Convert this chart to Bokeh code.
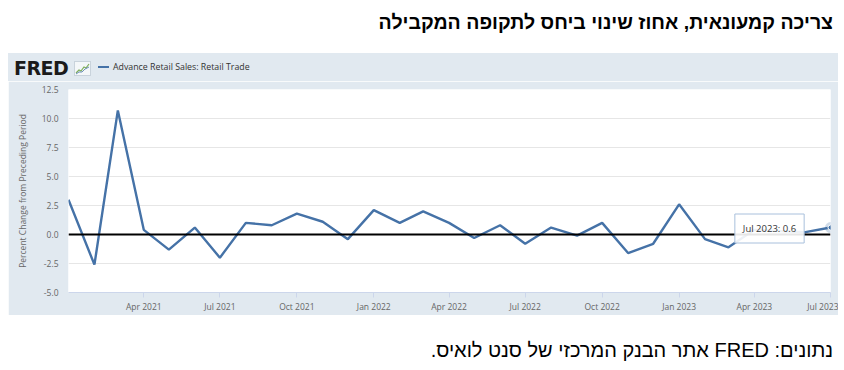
import pandas as pd
from bokeh.plotting import figure
from bokeh.models import (Range1d, FixedTicker, DatetimeTickFormatter, NumeralTickFormatter,
                          Span, Label, Div, ColumnDataSource)
from bokeh.layouts import column
from bokeh.embed import file_html
from bokeh.resources import INLINE

# ---------------- data ----------------
title_text = "צריכה קמעונאית, אחוז שינוי ביחס לתקופה המקבילה"
source_text = "נתונים: FRED אתר הבנק המרכזי של סנט לואיס."
series_name = "Advance Retail Sales: Retail Trade"
y_axis_title = "Percent Change from Preceding Period"

months = ["2021-01", "2021-02", "2021-03", "2021-04", "2021-05", "2021-06",
          "2021-07", "2021-08", "2021-09", "2021-10", "2021-11", "2021-12",
          "2022-01", "2022-02", "2022-03", "2022-04", "2022-05", "2022-06",
          "2022-07", "2022-08", "2022-09", "2022-10", "2022-11", "2022-12",
          "2023-01", "2023-02", "2023-03", "2023-04", "2023-05", "2023-06",
          "2023-07"]
pct_change = [3.0, -2.6, 10.7, 0.4, -1.3, 0.6, -2.0, 1.0, 0.8, 1.8, 1.1, -0.4,
              2.1, 1.0, 2.0, 1.0, -0.3, 0.8, -0.8, 0.6, -0.1, 1.0, -1.6, -0.8,
              2.6, -0.4, -1.1, 0.4, 0.3, 0.2, 0.6]
x_tick_labels = ["Apr 2021", "Jul 2021", "Oct 2021", "Jan 2022", "Apr 2022",
                 "Jul 2022", "Oct 2022", "Jan 2023", "Apr 2023", "Jul 2023"]
y_ticks = [-5.0, -2.5, 0.0, 2.5, 5.0, 7.5, 10.0, 12.5]
tooltip_text = "Jul 2023: 0.6"

# ---------------- styling ----------------
PANEL = "#e1e9f0"
LINE = "#4572a7"
FONT = "Open Sans"
W = 830

dates = pd.to_datetime(months, format="%Y-%m")
src = ColumnDataSource(dict(x=dates, y=pct_change))
tick_dates = pd.to_datetime(x_tick_labels, format="%b %Y")
tick_ms = [int(d.value // 10**6) for d in tick_dates]

# ---------- header strip (logo + legend) ----------
icon_svg = ('<svg width="17" height="15" style="position:absolute;left:66px;top:8px;">'
            '<rect x="0.5" y="0.5" width="16" height="14" fill="#f4f7f9" stroke="#c9d3dc"/>'
            '<polyline points="2,12 5,9 7,10 10,6 12,7 15,3" fill="none" stroke="#7fae5a" stroke-width="1.2"/>'
            '<polyline points="2,13 5,11 8,11 11,8 15,6" fill="none" stroke="#6d8fb8" stroke-width="1"/>'
            '</svg>')
header_html = (
    f'<div style="position:relative;width:{W}px;height:28px;background:{PANEL};">'
    '<span style="position:absolute;left:6px;top:6px;font-family:\'DejaVu Sans\';font-weight:bold;'
    'font-size:19px;line-height:18px;color:#1a1a1a;letter-spacing:-0.5px;">FRED</span>'
    f'{icon_svg}'
    f'<span style="position:absolute;left:90px;top:13px;width:11px;height:0;border-top:2px solid {LINE};"></span>'
    f'<span style="position:absolute;left:105px;top:8px;font-family:\'{FONT}\';font-size:8.8px;'
    f'line-height:12px;color:#333333;white-space:nowrap;">{series_name}</span>'
    '</div>')
header_div = Div(text=header_html, width=W, height=28, margin=0)

# ---------- main chart ----------
p = figure(width=W, height=234, x_axis_type="datetime",
           output_backend="svg", toolbar_location=None,
           x_range=Range1d(dates[0], dates[-1]),
           y_range=Range1d(y_ticks[0], y_ticks[-1]),
           min_border_left=60, min_border_right=8,
           min_border_top=8, min_border_bottom=23, margin=0)
p.border_fill_color = PANEL
p.background_fill_color = "white"
p.outline_line_color = None

p.xaxis.ticker = FixedTicker(ticks=tick_ms)
fmt = "%b %Y"
p.xaxis.formatter = DatetimeTickFormatter(days=fmt, months=fmt, years=fmt, hours=fmt,
                                          minutes=fmt, seconds=fmt, milliseconds=fmt,
                                          microseconds=fmt, minsec=fmt, hourmin=fmt)
p.xaxis.axis_line_color = "#ccd6eb"
p.xaxis.major_tick_line_color = "#ccd6eb"
p.xaxis.major_tick_in = 0
p.xaxis.major_tick_out = 5
p.xaxis.minor_tick_line_color = None
p.xaxis.major_label_standoff = 3
p.xaxis.major_label_text_font = FONT
p.xaxis.major_label_text_font_size = "8.5px"
p.xaxis.major_label_text_color = "#666666"

p.yaxis.ticker = FixedTicker(ticks=y_ticks)
p.yaxis.formatter = NumeralTickFormatter(format="0.0")
p.yaxis.axis_line_color = None
p.yaxis.major_tick_line_color = None
p.yaxis.major_tick_out = 0
p.yaxis.major_tick_in = 0
p.yaxis.minor_tick_line_color = None
p.yaxis.minor_tick_out = 0
p.yaxis.major_label_standoff = 10
p.yaxis.major_label_text_font = FONT
p.yaxis.major_label_text_font_size = "8.5px"
p.yaxis.major_label_text_color = "#666666"
p.yaxis.axis_label = y_axis_title
p.yaxis.axis_label_text_font = FONT
p.yaxis.axis_label_text_font_style = "normal"
p.yaxis.axis_label_text_font_size = "8.5px"
p.yaxis.axis_label_text_color = "#666666"
p.yaxis.axis_label_standoff = 11

p.xgrid.grid_line_color = None
p.ygrid.grid_line_color = "#e6e6e6"

p.add_layout(Span(location=0, dimension="width", line_color="black", line_width=2))

p.line("x", "y", source=src, line_color=LINE, line_width=2.4)

p.scatter([dates[-1]], [pct_change[-1]], size=11, fill_color=LINE, fill_alpha=0.25,
          line_color=None)
p.scatter([dates[-1]], [pct_change[-1]], size=5, fill_color=LINE, line_color="white",
          line_width=1)

p.add_layout(Label(x=701, y=64, x_units="screen", y_units="screen", text=tooltip_text,
                   text_align="center", text_baseline="middle", text_font=FONT,
                   text_font_size="9.5px", text_color="#333333",
                   background_fill_color="white", background_fill_alpha=0.9,
                   border_line_color="#a9c0dc", border_line_width=1, padding=8))

title_div = Div(text=f'<div dir="rtl" style="width:825px;text-align:right;font-family:\'Liberation Sans\';'
                     f'font-weight:bold;font-size:19.5px;line-height:28px;color:#000;">{title_text}</div>',
                width=W, height=45, margin=0)
footer_div = Div(text=f'<div dir="rtl" style="width:825px;text-align:right;font-family:\'Liberation Sans\';'
                      f'font-size:20px;line-height:24px;color:#000;padding-top:23px;">{source_text}</div>',
                 width=W, height=47, margin=0)

layout = column(title_div, header_div, p, footer_div, spacing=0, margin=(8, 0, 0, 8))
open("out.html", "w").write(file_html(layout, INLINE))
